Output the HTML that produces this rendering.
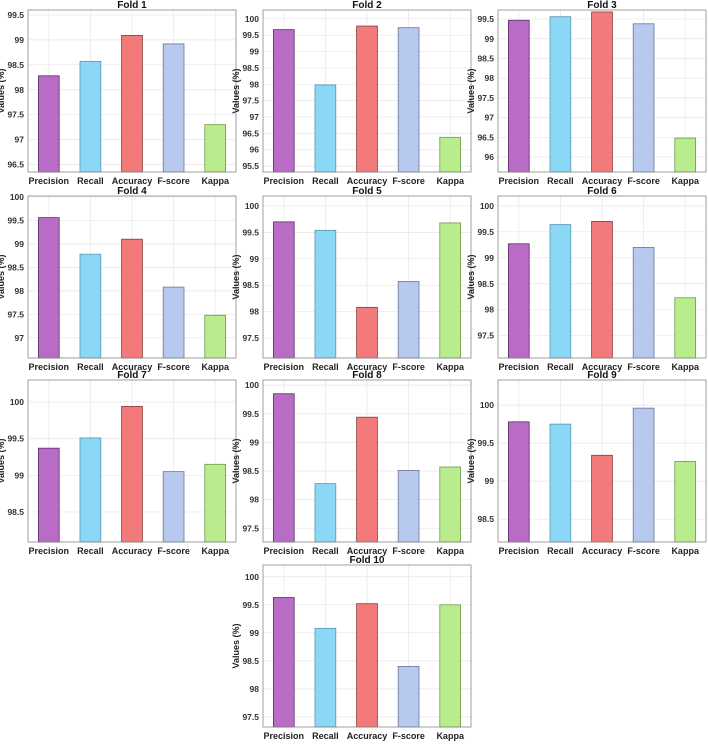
<!DOCTYPE html>
<html><head><meta charset="utf-8">
<style>
body{margin:0;background:#fff;}
svg{display:block;font-family:"Liberation Sans",Arial,sans-serif;}
</style></head>
<body>
<svg id="c" width="708" height="745" xmlns="http://www.w3.org/2000/svg"></svg>
<script>
const categories = ["Precision","Recall","Accuracy","F-score","Kappa"];
const foldTitles = ["Fold 1","Fold 2","Fold 3","Fold 4","Fold 5","Fold 6","Fold 7","Fold 8","Fold 9","Fold 10"];
const fold1 = [98.28, 98.57, 99.09, 98.92, 97.30];
const fold2 = [99.67, 97.98, 99.78, 99.73, 96.38];
const fold3 = [99.47, 99.56, 99.68, 99.38, 96.48];
const fold4 = [99.56, 98.78, 99.10, 98.08, 97.48];
const fold5 = [99.70, 99.54, 98.08, 98.57, 99.68];
const fold6 = [99.27, 99.64, 99.70, 99.20, 98.23];
const fold7 = [99.37, 99.51, 99.94, 99.05, 99.15];
const fold8 = [99.85, 98.28, 99.44, 98.51, 98.57];
const fold9 = [99.78, 99.75, 99.34, 99.96, 99.26];
const fold10 = [99.63, 99.08, 99.52, 98.40, 99.50];
const foldValues = [fold1,fold2,fold3,fold4,fold5,fold6,fold7,fold8,fold9,fold10];
const yMins = [96.35, 95.32, 95.62, 96.57, 97.12, 97.07, 98.09, 97.26, 98.2, 97.32];
const yMaxs = [99.6, 100.27, 99.73, 100.02, 100.19, 100.19, 100.3, 100.09, 100.33, 100.21];
const tickSets = [
 [96.5,97,97.5,98,98.5,99,99.5],
 [95.5,96,96.5,97,97.5,98,98.5,99,99.5,100],
 [96,96.5,97,97.5,98,98.5,99,99.5],
 [97,97.5,98,98.5,99,99.5,100],
 [97.5,98,98.5,99,99.5,100],
 [97.5,98,98.5,99,99.5,100],
 [98.5,99,99.5,100],
 [97.5,98,98.5,99,99.5,100],
 [98.5,99,99.5,100],
 [97.5,98,98.5,99,99.5,100]
];
const fills = ["#b86cc6","#8bd7f6","#f27a7a","#b8c9ef","#b9ec8d"];
const strokes = ["#5a2e66","#5a95b0","#8a3a3a","#6a7595","#6e9a4c"];
const NS="http://www.w3.org/2000/svg";
const svg=document.getElementById('c');
function mk(t,a,p){const e=document.createElementNS(NS,t);for(const k in a)e.setAttribute(k,a[k]);(p||svg).appendChild(e);return e;}
const lefts=[28,263,498], tops=[10,196,380,565], W=208, H=162;
for(let f=0;f<10;f++){
  const col = f<9 ? f%3 : 1, row = f<9 ? Math.floor(f/3) : 3;
  const x0=lefts[col], y0=tops[row];
  const g=mk('g',{});
  
  
  const lo=yMins[f], hi=yMaxs[f];
  const ys=v=>y0+H-(v-lo)/(hi-lo)*H;
  const slot=W/5, xs=i=>x0+slot*(i+0.5);
  // grid
  for(const t of tickSets[f]){
    const y=ys(t);
    const gl=mk('line',{x1:x0,x2:x0+W,y1:y,y2:y,stroke:"#e6e6e6","stroke-width":0.7},g);
    
    
    const tl=mk('text',{x:x0-4,y:y+3,"text-anchor":"end","font-size":"8.5",fill:"#333","font-weight":"bold"},g);
    tl.textContent=t;
    
    
  }
  for(let i=0;i<5;i++){
    const vl=mk('line',{x1:xs(i),x2:xs(i),y1:y0,y2:y0+H,stroke:"#e6e6e6","stroke-width":0.7},g);
    
    
  }
  // bars
  foldValues[f].forEach((v,i)=>{
    const top=ys(v), bw=slot*0.5;
    const b=mk('rect',{x:xs(i)-bw/2,y:top,width:bw,height:y0+H-top,fill:fills[i],stroke:strokes[i],"stroke-width":0.8},g);
    
    
    const xl=mk('text',{x:xs(i),y:y0+H+12,"text-anchor":"middle","font-size":"9","font-weight":"bold",fill:"#222"},g);
    xl.textContent=categories[i];
    
    
  });
  const fr=mk('rect',{x:x0,y:y0,width:W,height:H,fill:"none",stroke:"#888","stroke-width":0.8},g);
  
  
  const tt=mk('text',{x:x0+W/2,y:y0-2,"text-anchor":"middle","font-size":"10","font-weight":"bold",fill:"#111"},g);
  tt.textContent=foldTitles[f];
  
  
  const yl=mk('text',{x:0,y:0,transform:`translate(${x0-24},${y0+H/2}) rotate(-90)`,"text-anchor":"middle","font-size":"9","font-weight":"bold",fill:"#222"},g);
  yl.textContent="Values (%)";
  
  
}
</script>
</body></html>
